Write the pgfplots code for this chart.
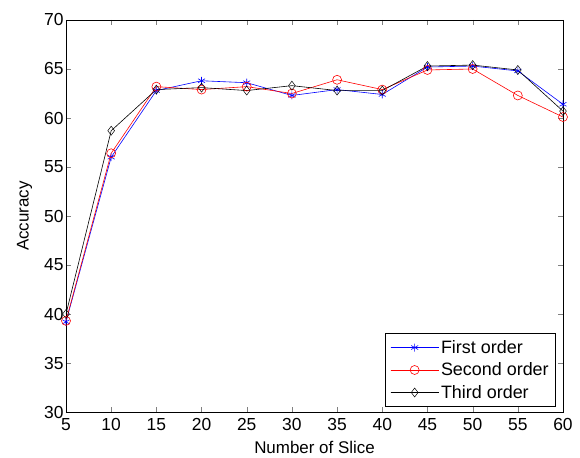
\documentclass[border=0pt]{standalone}
\usepackage{pgfplots}
\pgfplotsset{compat=1.18}
\usepackage{fontspec}
\setmainfont{Liberation Sans}
\begin{document}
\begin{tikzpicture}
\path[use as bounding box] (-66bp,-46bp) rectangle (514bp,412bp);
\begin{axis}[
  at={(0,0)}, anchor=south west,
  scale only axis, width=497bp, height=392bp,
  xmin=5, xmax=60, ymin=30, ymax=70,
  xtick={5,10,...,60}, ytick={30,35,...,70},
  xtick pos=both, ytick pos=both, tick align=inside,
  major tick length=5bp,
  /pgf/number format/assume math mode=true,
  every tick label/.append style={font=\fontsize{17.5}{20}\selectfont},
  xticklabel style={yshift=-3bp},
  yticklabel style={xshift=1bp},
  label style={font=\fontsize{17}{20}\selectfont},
  xlabel={Number of Slice},
  ylabel={Accuracy},
  xlabel style={yshift=-4bp},
  ylabel style={yshift=5bp},
  axis line style={line width=0.7pt},
  legend cell align=left,
  legend style={at={(1,0)}, anchor=south east, xshift=-7bp, yshift=5bp,
    font=\fontsize{18}{21}\selectfont, draw=black, line width=0.6pt,
    row sep=4bp, inner sep=5bp},
  legend image code/.code={\draw[#1] (0cm,0cm) -- (0.85cm,0cm);
    \draw[#1, mark repeat=2, mark phase=2] plot coordinates {(0cm,0cm) (0.85cm,0cm) (1.7cm,0cm)};
    \draw[#1] (0.85cm,0cm) -- (1.7cm,0cm);},
]
\addplot[blue, line width=0.6pt, mark=asterisk, mark size=4bp] coordinates {
(5,39.2) (10,56.0) (15,62.8) (20,63.8) (25,63.6) (30,62.3) (35,62.9) (40,62.4) (45,65.2) (50,65.3) (55,64.8) (60,61.4)};
\addlegendentry{First order}
\addplot[red, line width=0.6pt, mark=o, mark size=4.5bp] coordinates {
(5,39.3) (10,56.4) (15,63.2) (20,62.9) (25,63.2) (30,62.5) (35,63.9) (40,62.9) (45,64.9) (50,65.0) (55,62.3) (60,60.1)};
\addlegendentry{Second order}
\addplot[black, line width=0.6pt, mark=diamond, mark size=4.5bp, mark options={line width=0.5pt}] coordinates {
(5,40.0) (10,58.7) (15,62.9) (20,63.1) (25,62.8) (30,63.3) (35,62.8) (40,62.8) (45,65.3) (50,65.4) (55,64.9) (60,60.7)};
\addlegendentry{Third order}
\end{axis}
\end{tikzpicture}
\end{document}
